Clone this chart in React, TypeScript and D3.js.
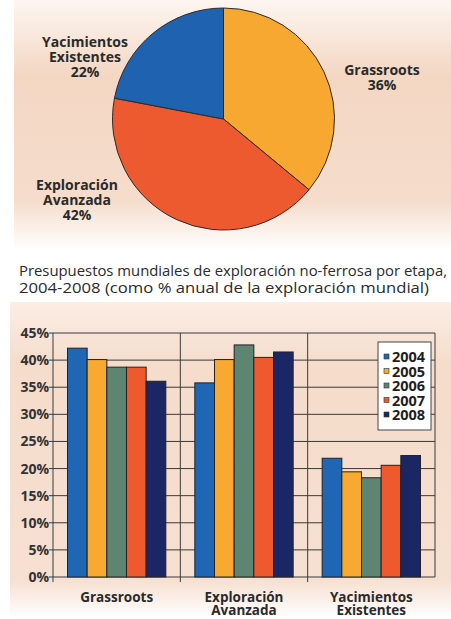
import React, { useEffect, useRef } from "react";
import * as d3 from "d3";

// pie: share by stage
const pieStages = ["Grassroots", "Exploración Avanzada", "Yacimientos Existentes"];
const pieShares = [36, 42, 22];
const pieColors = ["#F6A830", "#EE5A30", "#1F62AF"];

// bars: % per year by stage
const categories = ["Grassroots", "Exploración Avanzada", "Yacimientos Existentes"];
const years = ["2004", "2005", "2006", "2007", "2008"];
const values2004 = [42.2, 35.8, 21.9];
const values2005 = [40.1, 40.1, 19.4];
const values2006 = [38.7, 42.8, 18.3];
const values2007 = [38.7, 40.5, 20.6];
const values2008 = [36.1, 41.5, 22.4];
const yearColors = ["#1F66B5", "#F7A930", "#5E8571", "#EE5A2E", "#1B2664"];
const yTicks = [0, 5, 10, 15, 20, 25, 30, 35, 40, 45];

const titleLines = [
  "Presupuestos mundiales de exploración no-ferrosa por etapa,",
  "2004-2008 (como % anual de la exploración mundial)"
];

const W = 451;
const H = 619;
const FONT = "'Open Sans', 'Noto Sans', sans-serif";

export default function App() {
  const ref = useRef<SVGSVGElement>(null);

  useEffect(() => {
    const svg = d3.select(ref.current);
    svg.selectAll("*").remove();

    const defs = svg.append("defs");
    const g1 = defs
      .append("linearGradient")
      .attr("id", "pieBg")
      .attr("x1", 0)
      .attr("y1", 0)
      .attr("x2", 0)
      .attr("y2", 1);
    g1.append("stop").attr("offset", "0%").attr("stop-color", "#fdf6f1");
    g1.append("stop").attr("offset", "30%").attr("stop-color", "#f3d7c3");
    g1.append("stop").attr("offset", "80%").attr("stop-color", "#f5dccb");
    g1.append("stop").attr("offset", "100%").attr("stop-color", "#ffffff");

    const g2 = defs
      .append("linearGradient")
      .attr("id", "barBg")
      .attr("x1", 0)
      .attr("y1", 0)
      .attr("x2", 0)
      .attr("y2", 1);
    g2.append("stop").attr("offset", "0%").attr("stop-color", "#fbeee5");
    g2.append("stop").attr("offset", "20%").attr("stop-color", "#f5dccb");
    g2.append("stop").attr("offset", "88%").attr("stop-color", "#f6e0d1");
    g2.append("stop").attr("offset", "100%").attr("stop-color", "#ffffff");

    svg.append("rect").attr("width", W).attr("height", H).attr("fill", "#fff");
    svg
      .append("rect")
      .attr("x", 14)
      .attr("y", 0)
      .attr("width", W - 14)
      .attr("height", 250)
      .attr("fill", "url(#pieBg)");
    svg
      .append("rect")
      .attr("x", 10)
      .attr("y", 302)
      .attr("width", W - 10)
      .attr("height", 316)
      .attr("fill", "url(#barBg)");

    // ---- pie ----
    const cx = 223.5;
    const cy = 119;
    const r = 111;
    const pie = d3
      .pie<number>()
      .sort(null)
      .value(d => d);
    const arc = d3
      .arc<d3.PieArcDatum<number>>()
      .innerRadius(0)
      .outerRadius(r);
    const pg = svg.append("g").attr("transform", `translate(${cx},${cy})`);
    pg.selectAll("path")
      .data(pie(pieShares))
      .enter()
      .append("path")
      .attr("d", arc)
      .attr("fill", (d, i) => pieColors[i])
      .attr("stroke", "#2b2b2b")
      .attr("stroke-width", 1);

    const pieLabelPos = [
      { x: 382, y: 75 },
      { x: 77, y: 190 },
      { x: 85, y: 47 }
    ];
    pieLabelPos.forEach((p, i) => {
      const t = svg
        .append("text")
        .attr("text-anchor", "middle")
        .attr("font-family", FONT)
        .attr("font-weight", "bold")
        .attr("font-size", 14)
        .attr("fill", "#2a2a2a");
      const lines = [...pieStages[i].split(" "), pieShares[i] + "%"];
      lines.forEach((l, j) => {
        t.append("tspan").attr("x", p.x).attr("y", p.y + j * 15).text(l);
      });
    });

    // ---- title ----
    const titleWidths = [428, 410];
    titleLines.forEach((l, i) => {
      svg
        .append("text")
        .attr("x", 19)
        .attr("y", 276 + i * 17)
        .attr("font-family", FONT)
        .attr("font-size", 14)
        .attr("fill", "#2a2a2a")
        .attr("textLength", titleWidths[i])
        .attr("lengthAdjust", "spacingAndGlyphs")
        .text(l);
    });

    // ---- bars ----
    const left = 53;
    const right = 435;
    const yScale = d3.scaleLinear().domain([0, 45]).range([577, 333]);
    const x0 = d3.scaleBand().domain(categories).range([left, right]);
    const x1 = d3
      .scaleBand()
      .domain(years)
      .range([14.5, x0.bandwidth() - 14.5]);

    const series = [values2004, values2005, values2006, values2007, values2008];
    const bg = svg.append("g");

    // horizontal gridlines
    bg.selectAll("line.grid")
      .data(yTicks)
      .enter()
      .append("line")
      .attr("x1", left - 4)
      .attr("x2", right)
      .attr("y1", d => yScale(d))
      .attr("y2", d => yScale(d))
      .attr("stroke", "#3a3a3a")
      .attr("stroke-width", 1);

    // vertical separators
    const seps = categories.map(c => x0(c) as number).concat([right]);
    bg.selectAll("line.sep")
      .data(seps)
      .enter()
      .append("line")
      .attr("x1", d => d)
      .attr("x2", d => d)
      .attr("y1", yScale(45))
      .attr("y2", (d, i) => (i === seps.length - 1 ? yScale(0) : yScale(0) + 5))
      .attr("stroke", "#3a3a3a")
      .attr("stroke-width", 1);

    // y labels
    bg.selectAll("text.yl")
      .data(yTicks)
      .enter()
      .append("text")
      .attr("x", left - 4)
      .attr("y", d => yScale(d) + 5)
      .attr("text-anchor", "end")
      .attr("font-family", FONT)
      .attr("font-weight", "bold")
      .attr("font-size", 14)
      .attr("fill", "#333")
      .text(d => d + "%");

    // bar groups
    years.forEach((yr, k) => {
      bg.selectAll("rect.b" + yr)
        .data(series[k])
        .enter()
        .append("rect")
        .attr("x", (d, i) => (x0(categories[i]) as number) + (x1(yr) as number))
        .attr("y", d => yScale(d))
        .attr("width", x1.bandwidth())
        .attr("height", d => yScale(0) - yScale(d))
        .attr("fill", yearColors[k])
        .attr("stroke", "#222")
        .attr("stroke-width", 1);
    });

    // x labels
    categories.forEach(c => {
      const words = c.split(" ");
      const t = bg
        .append("text")
        .attr("text-anchor", "middle")
        .attr("font-family", FONT)
        .attr("font-weight", "bold")
        .attr("font-size", 13.5)
        .attr("fill", "#2a2a2a");
      words.forEach((w, j) => {
        t.append("tspan")
          .attr("x", (x0(c) as number) + x0.bandwidth() / 2)
          .attr("y", 602 + j * 13)
          .text(w);
      });
    });

    // legend
    const lg = svg.append("g").attr("transform", "translate(378,342)");
    lg.append("rect")
      .attr("width", 53)
      .attr("height", 88)
      .attr("fill", "#fff")
      .attr("stroke", "#444")
      .attr("stroke-width", 1);
    years.forEach((yr, k) => {
      lg.append("rect")
        .attr("x", 6)
        .attr("y", 12 + k * 14.5)
        .attr("width", 5)
        .attr("height", 5)
        .attr("fill", yearColors[k])
        .attr("stroke", "#333")
        .attr("stroke-width", 0.6);
      lg.append("text")
        .attr("x", 14)
        .attr("y", 20 + k * 14.5)
        .attr("font-family", FONT)
        .attr("font-weight", "bold")
        .attr("font-size", 14.5)
        .attr("fill", "#1e1e1e")
        .text(yr);
    });
  }, []);

  return (
    <svg
      ref={ref}
      width={W}
      height={H}
      style={{ position: "absolute", left: 0, top: 0, display: "block" }}
    />
  );
}
